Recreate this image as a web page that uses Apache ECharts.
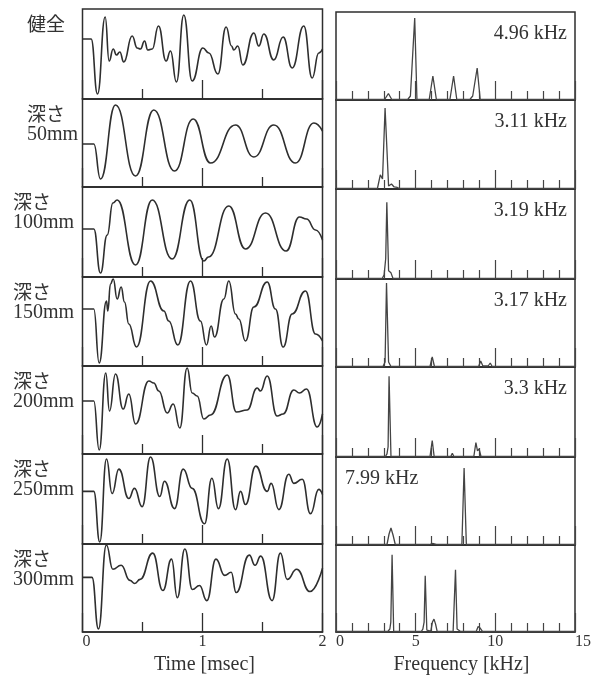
<!DOCTYPE html>
<html><head><meta charset="utf-8">
<script src="https://cdn.jsdelivr.net/npm/echarts@6/dist/echarts.min.js"></script>
<style>html,body{margin:0;padding:0;background:#fff}#c{width:594px;height:677px}</style>
</head><body><div id="c"></div>
<script>
// ---- data ----
const rowLabels = ['健全','深さ','深さ','深さ','深さ','深さ','深さ'];
const depthLabels = ['','50mm','100mm','150mm','200mm','250mm','300mm'];
const peakLabels = ['4.96 kHz','3.11 kHz','3.19 kHz','3.17 kHz','3.3 kHz','7.99 kHz',''];
const timeTickLabels = [0, 1, 2];
const freqTickLabels = [0, 5, 10, 15];
const timeAxisName = 'Time [msec]';
const freqAxisName = 'Frequency [kHz]';

// waveforms: [time ms, amplitude a.u.]
const wave0 = [[0,0],[0.072,0],[0.125,-55],[0.189,22],[0.222,-22],[0.256,-10],[0.283,-16],[0.311,-13],[0.344,-23],[0.414,3],[0.456,-9],[0.483,-10],[0.517,-2],[0.544,-11],[0.581,-10],[0.633,13],[0.697,-22],[0.733,-12],[0.783,-43],[0.844,24],[0.914,-42],[1.003,-9],[1.053,-14],[1.128,-35],[1.197,12],[1.242,-7],[1.261,-11],[1.294,-7],[1.336,-26],[1.428,6],[1.469,-7],[1.511,5],[1.594,-21],[1.672,2],[1.747,-29],[1.844,13],[1.914,-39],[1.969,-14],[2.0,-10]];
const wave50 = [[0,0],[0.094,0],[0.15,-35],[0.275,39],[0.442,-32],[0.594,34],[0.767,-27],[0.922,25],[1.067,-19],[1.275,19],[1.428,-13],[1.594,19],[1.775,-19],[1.928,21],[2.0,13]];
const wave100 = [[0,0],[0.094,0],[0.15,-44],[0.206,-6],[0.253,26],[0.289,29],[0.442,-36],[0.581,29],[0.747,-30],[0.894,29],[1.011,-32],[1.05,-28],[1.219,23],[1.358,-20],[1.525,16],[1.697,-22],[1.808,12],[1.867,10],[1.942,-1],[2.0,-11]];
const wave150 = [[0,0],[0.094,0],[0.139,-54],[0.2,8],[0.211,-2],[0.233,25],[0.256,30],[0.289,10],[0.322,22],[0.35,7],[0.386,-15],[0.45,-38],[0.567,28],[0.678,-2],[0.719,-12],[0.794,-36],[0.9,28],[0.983,-12],[1.033,-36],[1.072,-17],[1.1,-28],[1.178,10],[1.219,28],[1.275,-5],[1.303,-10],[1.358,-32],[1.428,2],[1.539,27],[1.608,0],[1.672,-38],[1.747,-5],[1.858,18],[1.942,-25],[2.0,-32]];
const wave200 = [[0,0],[0.094,0],[0.139,-49],[0.194,28],[0.225,-10],[0.275,27],[0.339,-8],[0.386,7],[0.442,-23],[0.553,20],[0.594,18],[0.636,10],[0.706,-12],[0.756,-3],[0.811,-27],[0.872,33],[0.914,8],[0.956,5],[1.011,-18],[1.067,-14],[1.206,26],[1.283,-11],[1.372,-9],[1.456,13],[1.483,10],[1.539,25],[1.622,-15],[1.672,-13],[1.761,11],[1.808,8],[1.867,12],[1.956,-26],[2.0,-13]];
const wave250 = [[0,0],[0.094,0],[0.144,-50],[0.2,32],[0.247,-2],[0.303,22],[0.386,-7],[0.433,3],[0.497,-15],[0.567,34],[0.644,-5],[0.683,10],[0.767,-17],[0.839,22],[0.914,3],[1.017,-32],[1.078,13],[1.133,-17],[1.206,32],[1.275,-18],[1.317,0],[1.358,-13],[1.444,25],[1.539,0],[1.572,8],[1.636,-18],[1.719,17],[1.761,8],[1.831,12],[1.9,-22],[1.969,2],[2.0,-3]];
const wave300 = [[0,0],[0.079,0],[0.133,-51],[0.199,32],[0.253,8],[0.322,12],[0.395,-3],[0.436,-6],[0.48,-2],[0.585,24],[0.67,-13],[0.742,18],[0.79,-20],[0.853,28],[0.916,-12],[0.975,-8],[1.036,-23],[1.112,18],[1.185,2],[1.239,5],[1.28,-15],[1.39,22],[1.438,12],[1.485,21],[1.58,-23],[1.649,24],[1.706,-2],[1.785,8],[1.896,-14],[2.0,9]];

// spectra: [frequency kHz, amplitude a.u.]
const spec0 = [[0,0.5],[3.05,0.5],[3.29,6.5],[3.5,0.5],[4.5,0.5],[4.67,4],[4.78,3],[4.94,82],[5.08,0.5],[5.85,0.5],[6.08,24],[6.3,0.5],[7.15,0.5],[7.38,24],[7.58,0.5],[8.4,0.5],[8.58,4],[8.7,3],[8.86,32],[9.05,0.5],[15,0.5]];
const spec50 = [[0,0.5],[2.6,0.5],[2.78,14],[2.92,10],[3.08,80],[3.3,3],[3.48,5],[3.65,2],[3.85,1.5],[4.0,0.5],[15,0.5]];
const spec100 = [[0,0.5],[2.9,0.5],[3.02,4],[3.12,20],[3.19,75],[3.3,8],[3.45,6],[3.58,0.5],[5.6,0.5],[5.72,2],[5.85,0.5],[15,0.5]];
const spec150 = [[0,0.5],[2.95,0.5],[3.08,5],[3.17,84],[3.3,5],[3.45,0.5],[5.9,0.5],[6.04,10],[6.18,0.5],[8.95,0.5],[9.08,6],[9.22,1],[9.55,1],[9.68,4],[9.8,0.5],[15,0.5]];
const spec200 = [[0,0.5],[3.1,0.5],[3.2,3],[3.27,10],[3.33,79],[3.45,0.5],[5.9,0.5],[6.04,16],[6.16,0.5],[7.2,0.5],[7.3,3.5],[7.4,0.5],[8.65,0.5],[8.78,14],[8.88,6],[8.98,8],[9.1,0.5],[9.6,0.5],[9.72,2],[9.85,0.5],[15,0.5]];
const spec250 = [[0,0.5],[3.2,0.5],[3.33,11],[3.45,17],[3.58,10],[3.72,0.5],[5.85,0.5],[5.95,2.5],[6.05,1.5],[6.15,3],[6.3,0.5],[7.9,0.5],[8.04,77],[8.18,0.5],[15,0.5]];
const spec300 = [[0,0.5],[3.25,0.5],[3.38,3],[3.44,10],[3.52,78],[3.62,0.5],[5.35,0.5],[5.45,3],[5.53,10],[5.6,57],[5.7,2],[5.95,1],[6.05,10],[6.15,13],[6.25,8],[6.35,0.5],[7.35,0.5],[7.5,63],[7.6,3],[7.72,4],[7.82,0.5],[8.8,0.5],[8.92,5.5],[9.05,4],[9.2,0.5],[15,0.5]];

const waves = [wave0, wave50, wave100, wave150, wave200, wave250, wave300];
const spectra = [spec0, spec50, spec100, spec150, spec200, spec250, spec300];

// ---- layout ----
const LX0 = 82.5, LX1 = 322.5, RX0 = 336, RX1 = 575;
const leftTops = [9, 99, 187, 277, 366, 454, 544, 632];
const rightTops = [12, 100, 189, 279, 367, 457, 545, 632];
const waveRanges = [[-60,30],[-43,45],[-48,42],[-57,32],[-53,35],[-52,37],[-54,33]];
const specMax = 88;
const labelX = [27, 27, 13, 13, 13, 13, 13];
const ink = '#2e2e2e';
const serif = '"Liberation Serif", "DejaVu Serif", serif';
const cjk = '"Noto Sans CJK JP", sans-serif';

const grid = [], xAxis = [], yAxis = [], series = [], graphic = [];
const n = waves.length;
for (let i = 0; i < n; i++) {
  const last = i === n - 1;
  grid.push({left: LX0, top: leftTops[i], width: LX1 - LX0, height: leftTops[i+1] - leftTops[i],
    show: true, borderColor: ink, borderWidth: 1.5, backgroundColor: 'transparent'});
  grid.push({left: RX0, top: rightTops[i], width: RX1 - RX0, height: rightTops[i+1] - rightTops[i],
    show: true, borderColor: ink, borderWidth: 1.5, backgroundColor: 'transparent'});
  const tl = timeTickLabels, fl = freqTickLabels;
  xAxis.push({gridIndex: 2*i, type: 'value', min: tl[0], max: tl[tl.length-1], interval: tl[1]-tl[0],
    position: 'bottom',
    axisLine: {show: true, onZero: false, lineStyle: {color: ink, width: 1.5}},
    axisTick: {show: true, inside: true, length: 19, lineStyle: {color: ink, width: 1.3}},
    minorTick: {show: true, splitNumber: 2, length: 10, lineStyle: {color: ink, width: 1.3}},
    splitLine: {show: false},
    axisLabel: {show: last, margin: 2, color: '#333', fontSize: 16, fontFamily: serif, alignMinLabel: 'left'},
    name: last ? timeAxisName : '', nameLocation: 'middle', nameGap: 23,
    nameTextStyle: {color: '#333', fontSize: 20, fontFamily: serif, padding: [0,0,0,4]}});
  xAxis.push({gridIndex: 2*i+1, type: 'value', min: fl[0], max: fl[fl.length-1], interval: fl[1]-fl[0],
    position: 'bottom',
    axisLine: {show: true, onZero: false, lineStyle: {color: ink, width: 1.5}},
    axisTick: {show: true, inside: true, length: 19, lineStyle: {color: '#444', width: 1.2}},
    minorTick: {show: true, splitNumber: 5, length: 9, lineStyle: {color: '#444', width: 1.2}},
    splitLine: {show: false},
    axisLabel: {show: last, margin: 2, color: '#333', fontSize: 16, fontFamily: serif, alignMinLabel: 'left', alignMaxLabel: 'left'},
    name: last ? freqAxisName : '', nameLocation: 'middle', nameGap: 23,
    nameTextStyle: {color: '#333', fontSize: 20, fontFamily: serif, padding: [0,0,0,12]}});
  yAxis.push({gridIndex: 2*i, type: 'value', min: waveRanges[i][0], max: waveRanges[i][1], show: false, splitLine: {show: false}});
  yAxis.push({gridIndex: 2*i+1, type: 'value', min: 0, max: specMax, show: false, splitLine: {show: false}});
  series.push({type: 'line', xAxisIndex: 2*i, yAxisIndex: 2*i, data: waves[i], showSymbol: false,
    smooth: 0.5, smoothMonotone: 'x', lineStyle: {color: ink, width: 1.6}, silent: true});
  series.push({type: 'line', xAxisIndex: 2*i+1, yAxisIndex: 2*i+1, data: spectra[i], showSymbol: false,
    lineStyle: {color: '#444', width: 1.3}, silent: true});
  graphic.push({type: 'text', x: labelX[i], y: leftTops[i] + 15,
    style: {text: rowLabels[i], font: '19px ' + cjk, fill: '#333', align: 'left', verticalAlign: 'middle'}});
  if (depthLabels[i]) graphic.push({type: 'text', x: labelX[i], y: leftTops[i] + 36,
    style: {text: depthLabels[i], font: '20px ' + serif, fill: '#333', align: 'left', verticalAlign: 'middle'}});
  if (peakLabels[i]) {
    const leftSide = i === 5;
    graphic.push({type: 'text', x: leftSide ? RX0 + 9 : RX1 - 8, y: rightTops[i] + 22,
      style: {text: peakLabels[i], font: '20px ' + serif, fill: '#333', align: leftSide ? 'left' : 'right', verticalAlign: 'middle'}});
  }
}

const chart = echarts.init(document.getElementById('c'), null, {renderer: 'canvas'});
chart.setOption({animation: false, backgroundColor: '#fff', grid, xAxis, yAxis, series, graphic});
</script></body></html>
